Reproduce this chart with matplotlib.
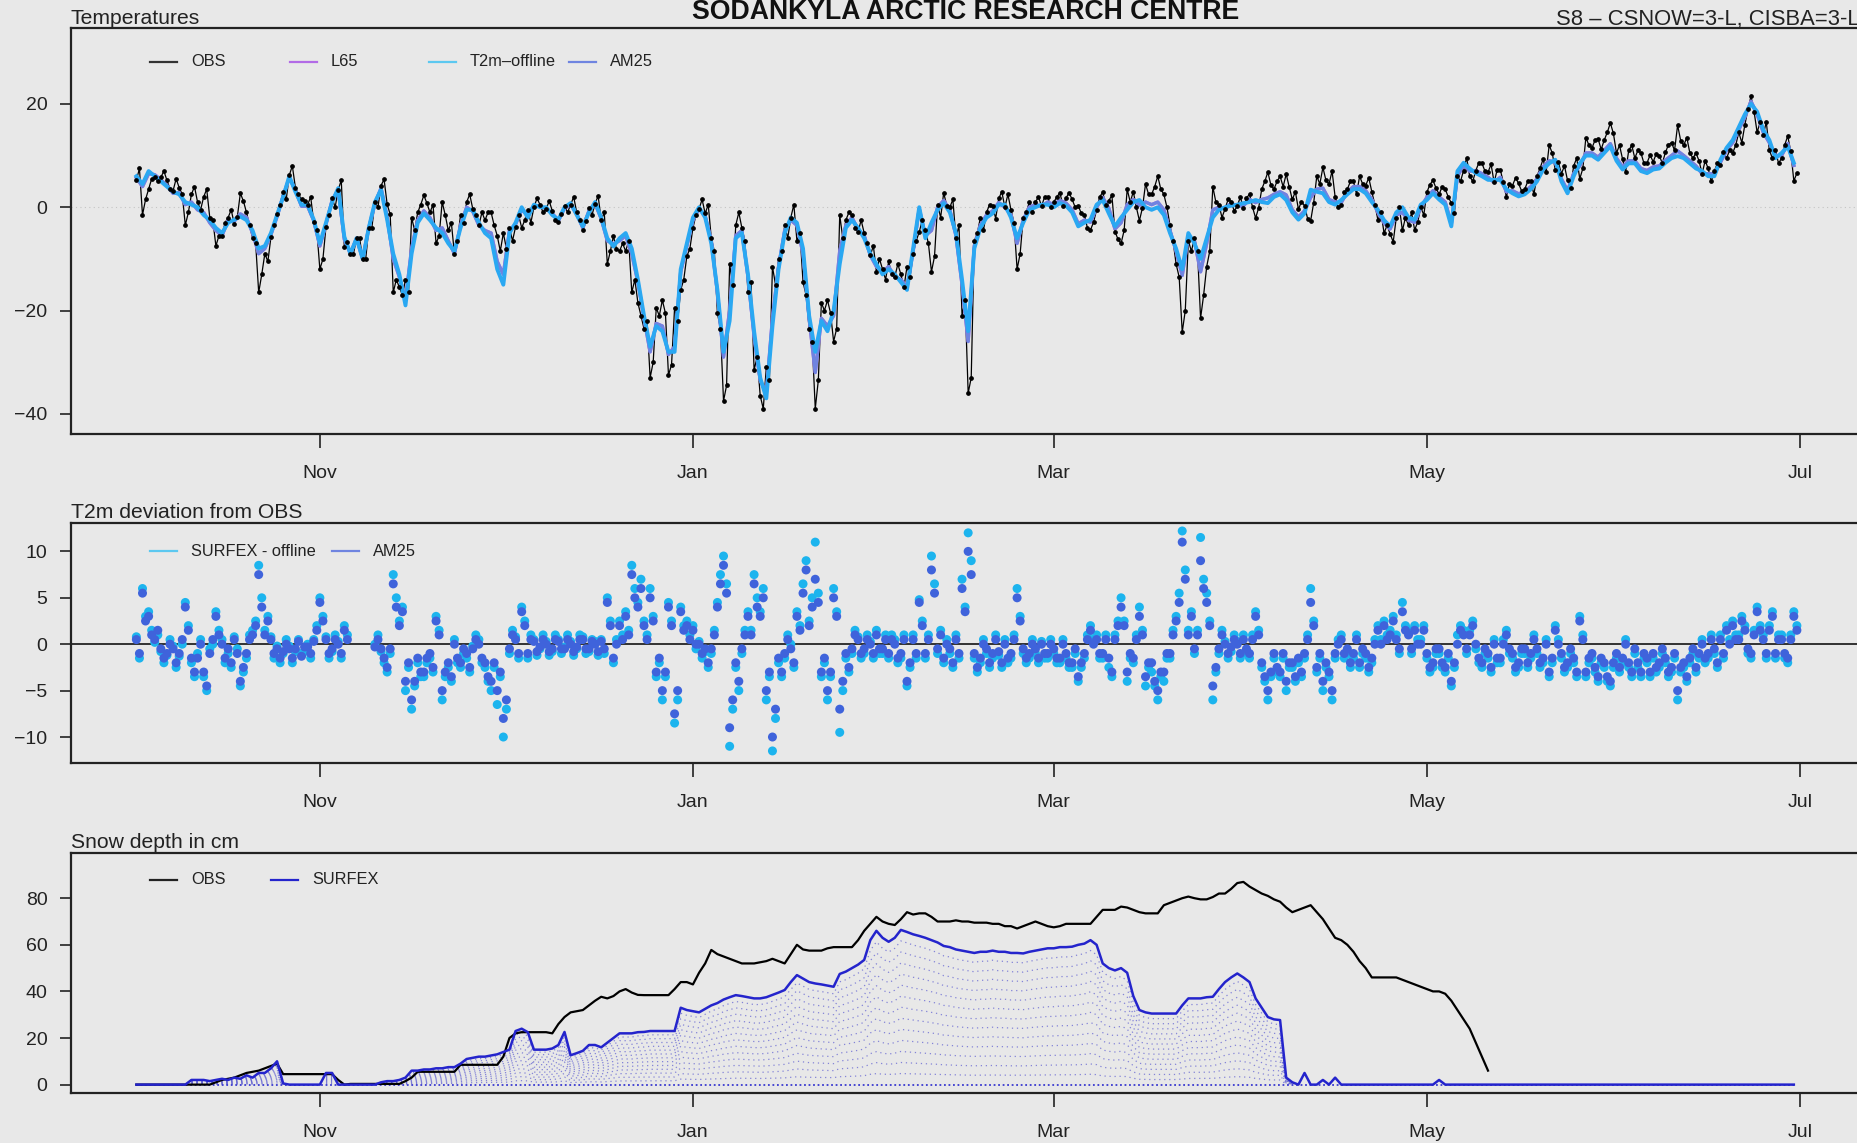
import numpy as np
import pandas as pd
import matplotlib
matplotlib.use("Agg")
import matplotlib.pyplot as plt
import matplotlib.dates as mdates
from matplotlib.lines import Line2D

nan = np.nan

# ---------------- data (daily, starting 2014-10-02) ----------------
start_date = "2014-10-02"

# modelled 2 m temperature (T2m-offline), degC, daily
t2m_model = [
    6, 4.5, 7, 6, 5, 4, 3, 2.5, 1, 0.5,
    0, -1.5, -2.5, -4, -5, -3, -2.4, -1.8, -2.5, -4.5,
    -8, -7.5, -5, -1.5, 2, 6, 3, 0.5, 0.5, -2.4,
    -7, -3, 1, 3.7, -5.7, -9, -6, -10, -4, 1,
    3.4, -2.4, -9, -13, -19, -9, -3, -1.2, -2.5, -4,
    -5, -7, -8.5, -4, -0.5, -0.5, -3, -5, -6, -12,
    -15, -5, -3, 0, -2, 0.5, 0, 0, -1.5, -2.4,
    0, 0.8, -1.5, -3.7, -1, 1, -2, -6, -7.6, -6,
    -5, -8, -14, -21, -27, -23, -24, -28, -28, -12,
    -7, -2, 0, -2, -7, -16, -28, -22, -6, -5,
    -13, -24, -33, -37, -23, -12, -5, -2, -3, -8,
    -21, -28, -22, -24, -20, -11, -4, -2.5, -4, -6,
    -9, -11, -13, -12, -13, -14.5, -16, -8, 0, -6,
    -3, -0.5, 0.8, -1, -5, -14, -24, -8, -4, -2,
    -1.2, 0.5, 0.5, -2, -6, -3, -0.5, 0, 0.5, 0.5,
    0, 0.8, 0.3, -1, -3.7, -3, -2.4, 0.5, 1.4, -1.2,
    -3.7, -2, -0.5, 1, 1.4, 0, -0.5, 0, -1.5, -5,
    -8, -12, -5, -7, -10, -6, -2, -0.5, 0, 0.3,
    0.5, 0.8, 1, 1.4, 1, 0.8, 2, 2.5, 1.4, -1,
    -2.4, -1.2, 3.4, 3, 2.7, 1, 0.5, 1.4, 2.5, 3.5,
    3.5, 2.7, 1, -0.5, -2.5, -3.7, -1, 0, -2, -2.4,
    0.5, 1.4, 2.7, 1.5, 0.5, -3.7, 7, 8.6, 7.5, 6.6,
    6, 5.3, 5.3, 5.3, 3.5, 2.7, 2.1, 2.5, 3.5, 5,
    7.3, 8.5, 9.2, 5, 2.7, 6, 8.5, 10, 10, 9.2,
    10.5, 11.8, 9, 7.3, 8.5, 8.5, 7, 6.6, 7.3, 7.5,
    8.6, 9.5, 9.9, 9.5, 8.5, 7.5, 7, 6, 6, 9.2,
    11.5, 13, 15.5, 18, 20, 18.5, 15, 13, 9.5, 10.5,
    11.8, 8.6,
]

# T2m deviation from OBS, AM25, 00 UTC samples
dev_am25 = [
    0.5, 5.5, 3, 0.5, -0.5, -1, -0.5, -1, 4, -1.5,
    -1.5, -3, -1, 3, 0, -0.5, 0.5, -4, -1, 1,
    7.5, 1, 0.5, -0.5, -0.8, -0.5, -0.5, -1.3, -0.3, 0.3,
    4.5, 0.5, -0.5, 0, 1.5, nan, nan, nan, nan, -0.3,
    -0.5, -2.5, 6.5, 2, -4, -6, -1.5, -3, -1, 2.5,
    -5, -2, 0, -2, -1, -0.5, 0, -2, -4, -5,
    -8, -0.5, 0.5, 3.5, -1, 0.3, -0.3, 0, -0.5, 0.3,
    -0.5, 0, -0.3, 0.5, -0.5, 0, 0.3, 4.5, -1.5, 2,
    3, 7.5, 4, 2, 5, -3, -5, 4, -7.5, 3.5,
    2, 1.5, 0, -0.5, -0.5, 4, 8.5, -9, -2, -0.5,
    3, 6.5, 3, -5, -10, -1.5, -1, -0.5, 3, 5.5,
    2, 7, -3, -5, 5, -7, -1, -0.5, 0.5, -0.5,
    0, 1, -0.5, -1, 0, -1, -4, 0.5, 4.5, -1,
    8, -0.5, -1.5, -0.5, 0.5, 6, 10, -1, -1.5, -0.5,
    -1, -0.8, 0, -1, 5, -0.5, -1, -0.5, 0, -1,
    -0.5, -1.5, -1, -2, -3.5, -1, 1.5, 0.5, -1, -1.5,
    0.5, 4, -3, -1.5, 3, -3.5, -2, -5, -3, -1,
    2.5, 11, 1, -0.5, 9, 4.5, -4.5, -0.5, 0, -0.3,
    0, 0.5, -1, 3, -2, -5, -1, -3, -4, -2,
    -1.5, -1, 4.5, -2.5, -4, -3, -1, 0.5, -0.5, -1,
    -2, -1, -1.5, 1.5, 2, 1, 0.5, 3.5, 1, 1.5,
    0, -1, -2, -0.5, -2.5, -4, 0, 1, 1, 0,
    -2, -1, 0, -1.5, 1, -1, -2, -0.5, -1, -0.5,
    -1.5, -3, 1.5, -1, -2, -1.5, 2.5, -3, -1, -3.5,
    -2, -4, -1, -1.5, -2, -0.5, -3, -1.5, -1, -2,
    -1.5, -2.5, -5, -2, -1.5, -2.5, 0, -1, -0.5, 0.5,
    1.5, 2, 0.5, 1.5, -1, 3.5, 0.5, 1.5, -1, 0.5,
    -1.5, 3,
]

# T2m deviation from OBS, AM25, 12 UTC samples
dev_am25_12 = [
    -1, 2.5, 1, 1.5, -1.5, 0, -2, 0.5, 1.5, -3,
    0, -4.5, 0.5, 1, -1.5, -2, -1, -2.5, 0.5, 2,
    4, 2.5, -1, -1.5, 0, -1.5, 0.3, -0.3, -1, 1.5,
    2.5, -1, 0.5, -1, 0.5, nan, nan, nan, nan, 0.5,
    -1.5, -0.5, 4, 3.5, -2, -4, -3, -1.5, -2.5, 1,
    -3, -3.5, -1.5, -0.5, -2.5, 0.5, -1.5, -3.5, -2, -3,
    -6, 1, -1, 2, 0.5, -0.8, 0.5, -0.8, 0.5, -0.5,
    0.5, -0.8, 0.5, -0.5, 0.3, -0.8, -0.5, 2, 0, 0.5,
    1, 5, 6, 0.5, 2.5, -1.5, -3, 2, -5, 1.5,
    0.5, 0, -1, -2, 1, 6.5, 5.5, -6, -4, 1,
    1, 4, 5, -3, -7, -3, 0.5, -2, 1.5, 8,
    4, 4.5, -1.5, -3, 3, -4, -2.5, 1, -1, 0.5,
    -1, -0.5, 0.5, 0.5, -1.5, 0.5, -2, -1, 2, 0.5,
    5.5, 1, 0, -2, -1, 3.5, 7.5, -2.5, 0, -2,
    0.5, -2, -1.5, 0.5, 2.5, -1.5, 0, -1.5, -1, 0,
    -1.5, 0, -2, -0.5, -2, 0.5, 0, -1, 0.5, -3,
    2, 2, -1, 0.5, 1, -2, -4, -3, -1, 1,
    4.5, 7, 3, 1, 6, 2, -2.5, 1, -1, 0.5,
    -1, -0.5, 0.5, 1, -3.5, -3, -2.5, -1, -2, -3.5,
    -3, 0.5, 2, -1, -2, -5, 0, -1, -2, 0.5,
    -0.5, -2.5, 0, 0, 0.5, 2.5, -0.5, 1.5, -0.5, 0,
    1.5, -2.5, -0.5, -2, -1, -2, 1.5, -0.5, 2, -1.5,
    -0.5, -2.5, -1.5, 0, -0.5, -2.5, -0.5, -2, 0.5, -2,
    0, -1.5, 0, -2.5, -0.5, -3, 0.5, -1.5, -2.5, -1.5,
    -3.5, -2, -2.5, 0, -3, -2, -1, -3, -2.5, -0.5,
    -3, -1, -2.5, -3.5, -0.5, -1, -1.5, 0.5, -2, -1,
    0, 0.5, 2.5, -0.5, 1, 1.5, -1, 3, 0.5, -1,
    0.5, 1.5,
]

# T2m deviation from OBS, SURFEX offline, 00 UTC samples
dev_offline = [
    0.8, 6, 3.5, 0.2, -0.8, -1.2, -0.2, -1.3, 4.5, -2,
    -1, -3.5, -0.5, 3.5, 0.5, -1, 0.8, -4.5, -1.5, 1.5,
    8.5, 1.5, 0.8, -0.2, -1, -0.2, -0.8, -1, 0, 0.5,
    5, 0.8, -0.8, 0.3, 2, nan, nan, nan, nan, 0,
    -0.8, -3, 7.5, 2.5, -5, -7, -2, -3.5, -1.5, 3,
    -6, -2.5, 0.5, -2.5, -1.5, -0.2, 0.5, -2.5, -5, -6.5,
    -10, -1, 0.8, 4, -1.5, 0.5, -0.5, 0.3, -0.8, 0.5,
    -0.3, 0.3, -0.5, 0.8, -0.8, 0.3, 0.5, 5, -2, 2.5,
    3.5, 8.5, 4.5, 2.5, 6, -3.5, -6, 4.5, -8.5, 4,
    2.5, 2, 0.3, -0.8, -1, 4.5, 9.5, -11, -2.5, -1,
    3.5, 7.5, 3.5, -6, -11.5, -2, -1.5, 0, 3.5, 6.5,
    2.5, 11, -3.5, -6, 6, -9.5, -1.5, -1, 0.8, -1,
    0.3, 1.5, -1, -1.5, 0.5, -1.5, -4.5, 1, 4.8, -1.5,
    9.5, -1, -2, -1, 1, 7, 12, -1.5, -2, -1,
    -1.5, -1.2, 0.5, -1.5, 6, -1, -1.5, -1, 0.3, -1.5,
    -1, -2, -1.5, -2.5, -4, -1.5, 2, 1, -1.5, -2.5,
    1, 5, -4, -2, 4, -4.5, -3, -6, -4, -1.5,
    3, 12.2, 1.5, -1, 11.5, 5.5, -6, -1, 0.3, -0.8,
    0.3, 1, -1.5, 3.5, -2.5, -6, -1.5, -3.5, -5, -2.5,
    -2, -1.5, 6, -3, -5, -3.5, -1.5, 1, -1, -1.5,
    -2.5, -1.5, -2, 2, 2.5, 1.5, 1, 4.5, 1.5, 2,
    0.5, -1.5, -2.5, -1, -3, -4.5, 1, 1.5, 1.5, -0.5,
    -2.5, -1.5, 0.5, -2, 1.5, -1.5, -2.5, -1, -1.5, -1,
    -2, -3.5, 2, -1.5, -2.5, -2, 3, -3.5, -1.5, -4,
    -2.5, -4.5, -1.5, -2, -2.5, -1, -3.5, -2, -1.5, -2.5,
    -2, -3, -6, -2.5, -2, -3, 0.5, -1.5, -1, 1,
    2, 2.5, 1, 2, -1.5, 4, 1, 2, -1.5, 1,
    -2, 3.5,
]

# T2m deviation from OBS, SURFEX offline, 12 UTC samples
dev_offline_12 = [
    -1.5, 3, 1.5, 1, -2, 0.5, -2.5, 0, 2, -3.5,
    0.5, -5, 0, 1.5, -2, -2.5, -0.5, -3, 1, 2.5,
    5, 3, -1.5, -2, 0.5, -2, 0.5, -0.8, -1.5, 2,
    3, -1.5, 1, -1.5, 1, nan, nan, nan, nan, 1,
    -2, -1, 5, 4, -2.5, -4.5, -3.5, -2, -3, 1.5,
    -3.5, -4, -2, -1, -3, 1, -2, -4, -2.5, -3.5,
    -7, 1.5, -1.5, 2.5, 1, -1.2, 1, -1.2, 1, -1,
    1, -1.2, 1, -1, 0.5, -1.2, -1, 2.5, 0.5, 1,
    1.5, 6, 7, 1, 3, -2, -3.5, 2.5, -6, 2,
    1, -0.5, -1.5, -2.5, 1.5, 7.5, 6.5, -7, -5, 1.5,
    1.5, 5, 6, -3.5, -8, -3.5, 1, -2.5, 2, 9,
    5, 5.5, -2, -3.5, 3.5, -5, -3, 1.5, -1.5, 1,
    -1.5, -1, 1, 1, -2, 1, -2.5, -1.5, 2.5, 1,
    6.5, 1.5, 0.5, -2.5, -1.5, 4, 9, -3, 0.5, -2.5,
    1, -2.5, -2, 1, 3, -2, 0.5, -2, -1.5, 0.5,
    -2, 0.5, -2.5, -1, -2.5, 1, 0.5, -1.5, 1, -3.5,
    2.5, 2.5, -1.5, 1, 1.5, -2.5, -4.5, -3.5, -1.5, 1.5,
    5.5, 8, 3.5, 1.5, 7, 2.5, -3, 1.5, -1.5, 1,
    -1.5, -1, 1, 1.5, -4, -3.5, -3, -1.5, -2.5, -4,
    -3.5, 1, 2.5, -1.5, -2.5, -6, 0.5, -1.5, -2.5, 1,
    -1, -3, 0.5, 0.5, 1, 3, -1, 2, -1, 0.5,
    2, -3, -1, -2.5, -1.5, -2.5, 2, -1, 2.5, -2,
    -1, -3, -2, 0.5, -1, -3, -1, -2.5, 1, -2.5,
    0.5, -2, 0.5, -3, -1, -3.5, 1, -2, -3, -2,
    -4, -2.5, -3, 0.5, -3.5, -2.5, -1.5, -3.5, -3, -1,
    -3.5, -1.5, -3, -4, -1, -1.5, -2, 1, -2.5, -1.5,
    0.5, 1, 3, -1, 1.5, 2, -1.5, 3.5, 1, -1.5,
    1, 2,
]

# snow depth, cm, daily
snow_obs = [
    0, 0, 0, 0, 0, 0, 0, 0, 0, 0,
    0, 0, 0, 1, 2, 2.5, 3, 4, 5, 5.5,
    6, 7, 8, 9, 4.5, 4.5, 4.5, 4.5, 4.5, 4.5,
    4.5, 4.5, 4.5, 2, 0, 0.3, 0.3, 0.3, 0.3, 0.3,
    0.3, 0.3, 0.3, 0.3, 1.5, 3, 5.5, 5.5, 5.5, 5.5,
    5.5, 5.5, 5.5, 8.5, 8.5, 8.5, 8.5, 8.5, 8.5, 8.5,
    12, 20, 22, 22.5, 22.5, 22.5, 22.5, 22.5, 22, 26,
    29, 31, 31.5, 32, 34, 36, 37.7, 37, 38, 40,
    41, 39.5, 38.5, 38.4, 38.4, 38.4, 38.4, 38.4, 41, 44,
    44, 43, 48, 52, 57.8, 56, 55, 54, 53, 52,
    52, 52, 52.5, 53, 54, 53, 52, 56, 60, 58,
    57.5, 57.5, 57.5, 58.5, 59, 59, 59, 59, 62, 66,
    69, 72, 70, 69, 68.5, 71, 74, 73, 73.5, 73.5,
    72, 70, 70, 70, 70.5, 70, 70, 69.5, 69.5, 69.5,
    69, 69, 68, 68, 67, 68, 69, 70, 69, 68,
    67.5, 68, 69, 69, 69, 69, 69, 72, 75, 75,
    75, 76.4, 76, 75, 74, 73.5, 73.5, 73.5, 77, 78,
    79, 80, 80.7, 80, 79.5, 79.5, 80.5, 82, 82, 84,
    86.5, 87, 85, 83.5, 82, 81, 79.5, 78.5, 76, 74,
    75, 76, 77, 74, 71, 67, 63, 62, 60, 57,
    53, 50, 46, 46, 46, 46, 46, 45, 44, 43,
    42, 41, 40, 40, 39, 36, 32, 28, 24, 18,
    12, 6,
] + [nan] * 50

snow_surfex = [
    0, 0, 0, 0, 0, 0, 0, 0, 0, 2,
    2, 2, 1.5, 2, 2.5, 2, 3, 2.5, 4, 3,
    5, 5, 7, 10, 0.5, 0, 0, 0, 0, 0,
    0, 5, 5, 0, 0, 0, 0, 0, 0, 0,
    1, 1.5, 1.5, 2, 3, 6, 6, 6.5, 6.5, 7,
    7, 7.5, 7.5, 9, 11, 11.5, 12, 12, 12.5, 13,
    14, 15, 23, 24, 22.5, 15, 15, 15, 15.5, 17,
    22.6, 12.6, 13.5, 14.5, 17, 17, 16, 18, 20, 22,
    22, 22, 22.5, 22.6, 23, 23, 23, 23, 23, 33,
    32, 31.5, 31, 32.5, 34, 35, 36.5, 37.5, 38.4, 38,
    37.5, 37, 37, 37.5, 38.5, 39.5, 40.6, 44, 47, 45.5,
    44, 43.4, 43, 42.5, 42, 47.5, 48.5, 50, 51.5, 53.5,
    62, 66, 63, 61.3, 63, 66.4, 65.5, 64.5, 63.8, 63,
    62, 61, 59.5, 59, 58, 57.5, 57, 56.5, 57, 57,
    57.5, 57, 57, 56.5, 56.5, 56.3, 57, 57.5, 58, 58.5,
    58.5, 59, 59, 59.2, 60, 60.5, 62, 60, 52, 50,
    49, 50, 48, 38, 32, 31, 30.5, 30.5, 30.5, 30.5,
    30.5, 34, 37, 37, 37, 37.5, 37.7, 41, 44, 46,
    47.7, 46, 44, 37, 33, 29, 28, 27.7, 3, 1,
    0, 5, 0, 0, 2, 0, 3, 0, 0, 0,
    0, 0, 0, 0, 0, 0, 0, 0, 0, 0,
    0, 0, 0, 2, 0, 0, 0, 0, 0, 0,
] + [0] * 52

n_layers = 14  # snow layers drawn as dotted lines
month_ticks = [11, 1, 3, 5, 7]

# ---------------- derived ----------------
n = len(t2m_model)
for name, arr in [("dev_am25", dev_am25), ("dev_offline", dev_offline),
                  ("dev_am25_12", dev_am25_12), ("dev_offline_12", dev_offline_12),
                  ("snow_obs", snow_obs), ("snow_surfex", snow_surfex)]:
    if len(arr) != n:
        raise ValueError(f"{name} has {len(arr)} values, expected {n}")

dates = pd.date_range(start_date, periods=n, freq="D")
dates12 = dates + pd.Timedelta(hours=12)
t2m_off = np.array(t2m_model, float)
d_off = np.array(dev_offline, float)
d_am = np.array(dev_am25, float)
d_off12 = np.array(dev_offline_12, float)
d_am12 = np.array(dev_am25_12, float)

# deviation = model - OBS
t_obs = t2m_off - np.nan_to_num(d_off)
t_obs12 = t2m_off - np.nan_to_num(d_off12)
t_am25 = t_obs + np.where(np.isnan(d_am), np.nan_to_num(d_off), d_am)

obs_times = np.empty(2 * n, dtype="datetime64[ns]")
obs_times[0::2] = dates.values
obs_times[1::2] = dates12.values
obs_vals = np.empty(2 * n)
obs_vals[0::2] = t_obs
obs_vals[1::2] = t_obs12

s_obs = np.array(snow_obs, float)
s_sfx = np.array(snow_surfex, float)

# ---------------- style ----------------
W, H = 1858, 1143
BG = "#e8e8e8"
plt.rcParams["font.family"] = ["Liberation Sans", "DejaVu Sans"]
TICK_FS = 14
TITLE_FS = 15.2
LEG_FS = 11.8

C_OBS = "black"
C_L65 = "#b26be6"
C_OFF = "#2aa8f2"
C_AM = "#6f84e0"
C_OFF_PT = "#1cb4ee"
C_AM_PT = "#3f63db"
C_SFX = "#2424cc"

fig = plt.figure(figsize=(W / 100, H / 100), dpi=100, facecolor=BG)


def fx(px):
    return px / W


def fy(py):
    return 1 - py / H


x_left = dates[0] - pd.Timedelta(days=10.69)
x_right = dates[0] + pd.Timedelta(days=282.1)


def make_ax(top_px, bot_px):
    ax = fig.add_axes([fx(71), fy(bot_px), 1 - fx(71) + 0.002, (bot_px - top_px) / H])
    ax.set_facecolor(BG)
    for s in ax.spines.values():
        s.set_color("#222222")
        s.set_linewidth(1.6)
    ax.set_xlim(x_left, x_right)
    ax.xaxis.set_major_locator(mdates.MonthLocator(bymonth=month_ticks))
    ax.xaxis.set_major_formatter(mdates.DateFormatter("%b"))
    ax.tick_params(axis="x", direction="out", length=10, width=1.2, pad=12,
                   labelsize=TICK_FS, colors="#222222")
    ax.tick_params(axis="y", direction="out", length=8, width=1.2, pad=9,
                   labelsize=TICK_FS, colors="#222222")
    return ax


def legend_entry(x, y, color, label, lw=1.6):
    fig.add_artist(Line2D([fx(x), fx(x + 27)], [fy(y), fy(y)], color=color, lw=lw,
                          transform=fig.transFigure))
    fig.text(fx(x + 41), fy(y), label, ha="left", va="center", fontsize=LEG_FS,
             color="#222222")


# ---------------- panel 1: temperatures ----------------
ax1 = make_ax(28, 434)
ax1.set_ylim(-43.9, 34.7)
ax1.set_yticks([-40, -20, 0, 20])
ax1.axhline(0, color="#c4c4c4", lw=0.8, ls=(0, (1, 3)))
ax1.plot(obs_times, obs_vals, color=C_OBS, lw=0.9, zorder=2)
ax1.plot(dates, t_am25, color=C_L65, lw=2.4, zorder=3)
ax1.plot(dates, t_am25, color=C_AM, lw=2.4, zorder=4)
ax1.plot(dates, t2m_off, color=C_OFF, lw=2.8, zorder=5)
ax1.plot(obs_times, obs_vals, ls="none", marker="o", ms=2.4, color=C_OBS, zorder=6)

# ---------------- panel 2: deviation ----------------
ax2 = make_ax(523, 763)
ax2.set_ylim(-12.8, 13.06)
ax2.set_yticks([-10, -5, 0, 5, 10])
ax2.axhline(0, color="black", lw=1.1, zorder=1)
ax2.scatter(dates, d_off, s=42, color=C_OFF_PT, edgecolors="none", zorder=2)
ax2.scatter(dates12, d_off12, s=42, color=C_OFF_PT, edgecolors="none", zorder=2)
ax2.scatter(dates, d_am, s=42, color=C_AM_PT, edgecolors="none", zorder=3)
ax2.scatter(dates12, d_am12, s=42, color=C_AM_PT, edgecolors="none", zorder=3)

# ---------------- panel 3: snow depth ----------------
ax3 = make_ax(853, 1093)
ax3.set_ylim(-3.6, 99.4)
ax3.set_yticks([0, 20, 40, 60, 80])
snow_mask = np.where(s_sfx > 0, s_sfx, np.nan)
for k in range(1, n_layers):
    ax3.plot(dates, snow_mask * k / n_layers, color="#5a5ad0", lw=0.9,
             ls=(0, (1, 3)), alpha=0.7, zorder=1)
ax3.plot(dates, np.zeros(n), color="#3a3ad0", lw=1.3, ls=(0, (1, 1.5)), zorder=1)
ax3.plot(dates, s_obs, color=C_OBS, lw=1.6, zorder=3)
ax3.plot(dates, s_sfx, color=C_SFX, lw=1.8, zorder=4)

# ---------------- titles & legends ----------------
fig.text(fx(966), fy(19), "SODANKYLA ARCTIC RESEARCH CENTRE", ha="center",
         va="baseline", fontsize=19.2, fontweight="bold", color="#111111")
fig.text(fx(1556), fy(25), "S8 \u2013 CSNOW=3-L, CISBA=3-L", ha="left",
         va="baseline", fontsize=15.8, color="#222222")
fig.text(fx(71), fy(24), "Temperatures", ha="left", va="baseline",
         fontsize=TITLE_FS, color="#222222")
fig.text(fx(71), fy(518), "T2m deviation from OBS", ha="left", va="baseline",
         fontsize=TITLE_FS, color="#222222")
fig.text(fx(71), fy(848), "Snow depth in cm", ha="left", va="baseline",
         fontsize=TITLE_FS, color="#222222")

legend_entry(150, 62, "#333333", "OBS")
legend_entry(290, 62, C_L65, "L65")
legend_entry(429, 62, "#5cc8f0", "T2m\u2013offline")
legend_entry(569, 62, C_AM, "AM25")

legend_entry(150, 551, "#5cc8f0", "SURFEX - offline")
legend_entry(332, 551, C_AM, "AM25")

legend_entry(150, 880, "#222222", "OBS")
legend_entry(271, 880, C_SFX, "SURFEX")

fig.savefig("out.png", dpi=100, facecolor=BG)
